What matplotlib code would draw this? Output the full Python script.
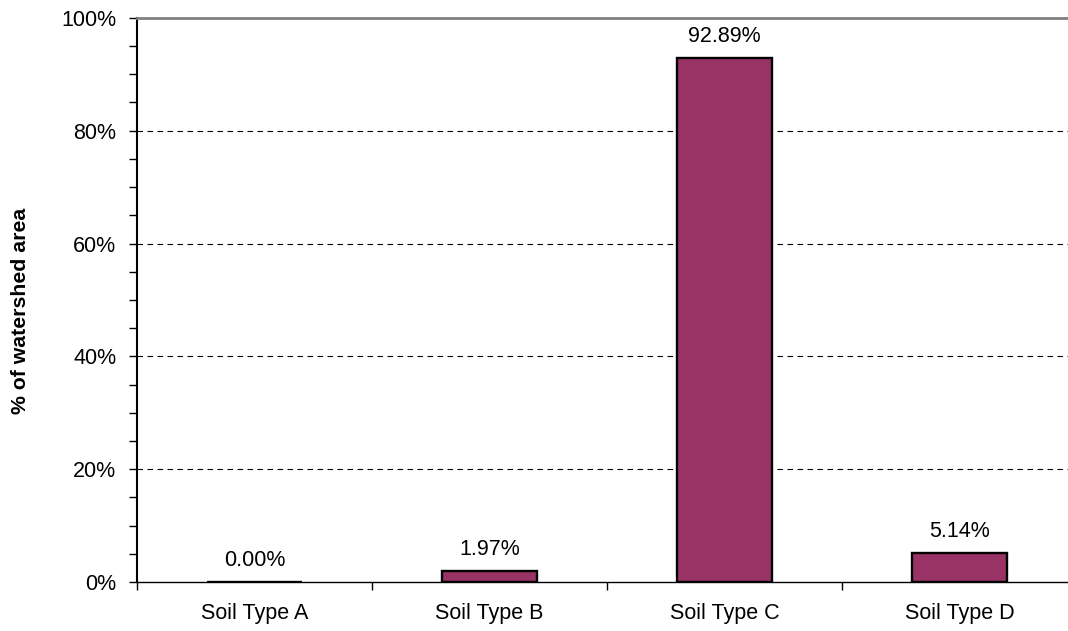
import matplotlib
matplotlib.use('Agg')
import matplotlib.pyplot as plt
from matplotlib.ticker import MultipleLocator, PercentFormatter

plt.rcParams['font.family'] = ['Liberation Sans', 'DejaVu Sans']

categories = ['Soil Type A', 'Soil Type B', 'Soil Type C', 'Soil Type D']
values = [0.00, 1.97, 92.89, 5.14]

fig = plt.figure(figsize=(10.68, 6.31), dpi=100)
# plot area runs a little past the right edge of the figure, as in the original
ax = fig.add_axes([137 / 1068, 0.0777, 940 / 1068, 0.894])

x = range(len(categories))
ax.bar(x, values, width=0.404, color='#993366', edgecolor='black', linewidth=1.7, zorder=3)

for i, v in enumerate(values):
    ax.annotate(f'{v:.2f}%', (i, v), xytext=(0, 11.5), textcoords='offset points',
                ha='center', va='baseline', fontsize=15.5)

ax.set_xlim(-0.5, 3.5)
ax.set_ylim(0, 100)
ax.yaxis.set_major_locator(MultipleLocator(20))
ax.yaxis.set_minor_locator(MultipleLocator(5))
ax.yaxis.set_major_formatter(PercentFormatter(decimals=0))
ax.set_xticks([-0.5, 0.5, 1.5, 2.5, 3.5])
ax.set_xticklabels([])
ax.set_xticks(list(x), minor=True)
ax.set_xticklabels(categories, minor=True)
ax.tick_params(axis='x', which='major', length=6, width=1, direction='out')
ax.tick_params(axis='x', which='minor', length=0, pad=15, labelsize=15.5)
ax.tick_params(axis='y', which='major', length=6, width=1, pad=9, labelsize=15.5)
ax.tick_params(axis='y', which='minor', length=6, width=1)

for yv in [20, 40, 60, 80]:
    ax.axhline(yv, color='black', linestyle=(0, (5, 4)), linewidth=0.8, zorder=1)

ax.spines['top'].set_color('#808080')
ax.spines['top'].set_linewidth(2)
ax.spines['right'].set_visible(False)
ax.spines['left'].set_linewidth(1.5)
ax.spines['bottom'].set_linewidth(1)

ax.set_ylabel('% of watershed area', fontsize=15.3, fontweight='bold')
ax.yaxis.set_label_coords(-0.114, 0.48)

fig.savefig('out.png', dpi=100)
